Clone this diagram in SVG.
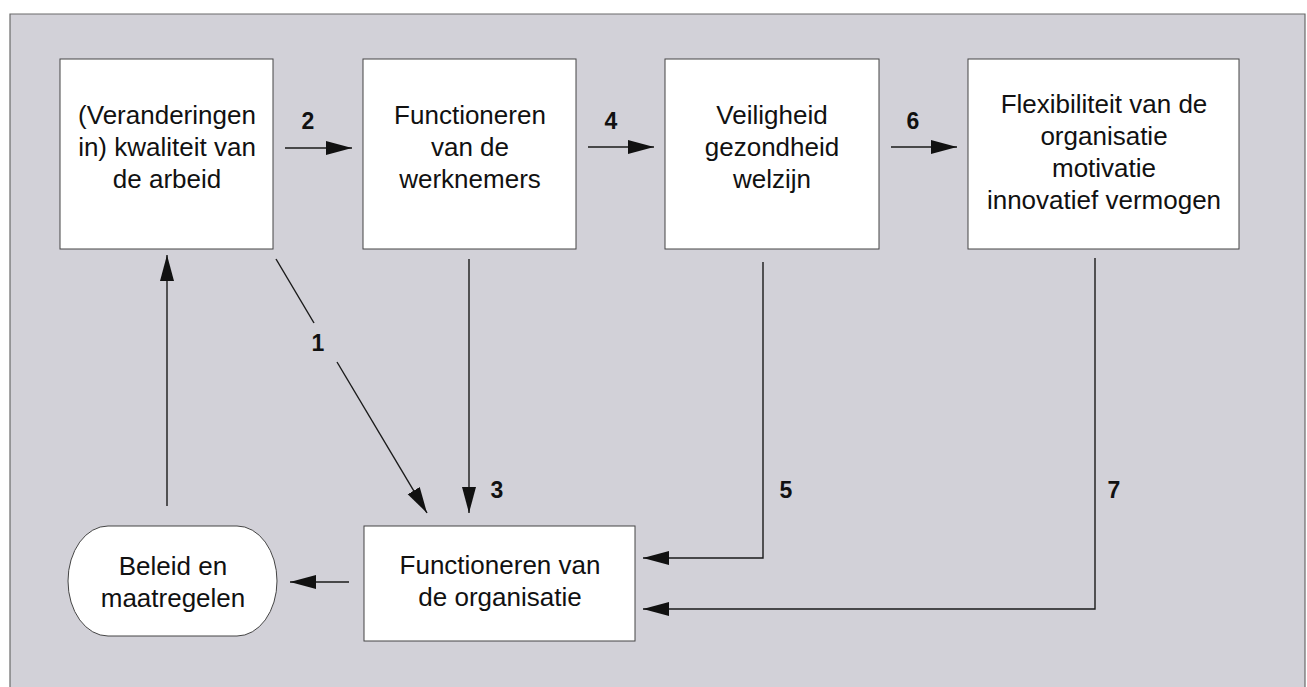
<svg xmlns="http://www.w3.org/2000/svg" width="1307" height="687" viewBox="0 0 1307 687">
<defs>
<marker id="ah" markerUnits="userSpaceOnUse" markerWidth="28" markerHeight="16" refX="26" refY="7" orient="auto">
<path d="M0,0 L26,7 L0,14 z" fill="#111"/>
</marker>
<style>
.frame{fill:#d2d1d8;stroke:#6a6a6a;stroke-width:1.2}
.box{fill:#ffffff;stroke:#444;stroke-width:1}
.t{font-family:"Liberation Sans",Arial,sans-serif;font-size:26px;fill:#111;text-anchor:middle}
.n{font-family:"Liberation Sans",Arial,sans-serif;font-size:23px;font-weight:bold;fill:#111;text-anchor:middle}
.c{fill:none;stroke:#1a1a1a;stroke-width:1.4}
.ca{fill:none;stroke:#1a1a1a;stroke-width:1.4;marker-end:url(#ah)}
</style>
</defs>
<rect width="1307" height="687" fill="#ffffff"/>
<path class="frame" d="M10,690 L10,14 L1305,14 L1305,690"/>

<g id="n-kwaliteit">
<rect class="box" x="60" y="59" width="213" height="190"/>
<text class="t" x="167" y="124">(Veranderingen</text>
<text class="t" x="167" y="156">in) kwaliteit van</text>
<text class="t" x="167" y="188">de arbeid</text>
</g>
<g id="n-werknemers">
<rect class="box" x="363" y="59" width="213" height="190"/>
<text class="t" x="470" y="124">Functioneren</text>
<text class="t" x="470" y="156">van de</text>
<text class="t" x="470" y="188">werknemers</text>
</g>
<g id="n-veiligheid">
<rect class="box" x="665" y="59" width="214" height="190"/>
<text class="t" x="772" y="124">Veiligheid</text>
<text class="t" x="772" y="156">gezondheid</text>
<text class="t" x="772" y="188">welzijn</text>
</g>
<g id="n-flexibiliteit">
<rect class="box" x="968" y="59" width="271" height="190"/>
<text class="t" x="1104" y="113">Flexibiliteit van de</text>
<text class="t" x="1104" y="145">organisatie</text>
<text class="t" x="1104" y="177">motivatie</text>
<text class="t" x="1104" y="209">innovatief vermogen</text>
</g>
<g id="n-organisatie">
<rect class="box" x="364" y="526" width="271" height="115"/>
<text class="t" x="500" y="574">Functioneren van</text>
<text class="t" x="500" y="606">de organisatie</text>
</g>
<g id="n-beleid">
<rect class="box" x="68" y="526" width="209" height="110" rx="40" ry="55"/>
<text class="t" x="173" y="575">Beleid en</text>
<text class="t" x="173" y="607">maatregelen</text>
</g>

<g id="connectors">
<line class="ca" x1="285" y1="148" x2="352" y2="148"/>
<line class="ca" x1="588" y1="147" x2="654" y2="147"/>
<line class="ca" x1="891" y1="147" x2="957" y2="147"/>
<line class="ca" x1="167" y1="506" x2="167" y2="255"/>
<line class="c" x1="276" y1="259" x2="314" y2="323"/>
<line class="ca" x1="337" y1="362" x2="427" y2="513"/>
<line class="ca" x1="469" y1="259" x2="469" y2="513"/>
<polyline class="ca" points="763,262 763,558 643,558"/>
<polyline class="ca" points="1095,258 1095,609 643,609"/>
<line class="ca" x1="349" y1="582" x2="290" y2="582"/>
<text class="n" x="308" y="129">2</text>
<text class="n" x="611" y="129">4</text>
<text class="n" x="913" y="129">6</text>
<text class="n" x="318" y="351">1</text>
<text class="n" x="497" y="498">3</text>
<text class="n" x="786" y="498">5</text>
<text class="n" x="1114" y="498">7</text>
</g>
</svg>
